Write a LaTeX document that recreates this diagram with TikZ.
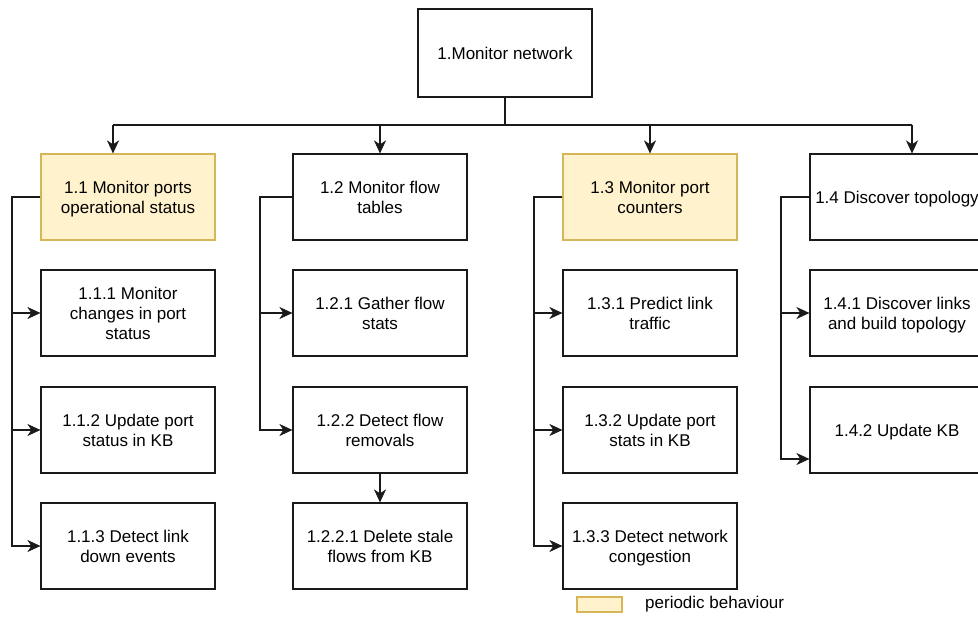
\documentclass[tikz,border=0pt]{standalone}
\usepackage{fontspec}
\setmainfont{Liberation Sans}
\usetikzlibrary{arrows.meta}

\definecolor{periodicfill}{HTML}{FFF2CC}
\definecolor{periodicline}{HTML}{D6B656}
\definecolor{edge}{HTML}{1A1A1A}

\tikzset{
  task/.style={draw=edge, line width=1.2pt, rectangle, minimum width=174pt,
    minimum height=86pt, inner sep=0pt, align=center, text depth=0pt,
    font=\fontsize{17}{20}\selectfont},
  periodic/.style={task, draw=periodicline, fill=periodicfill},
  link/.style={draw=edge, line width=1.3pt},
  arr/.style={link, -{Stealth[length=13pt,width=12pt,inset=4pt,line width=0.6pt]}},
  keybox/.style={draw=periodicline, fill=periodicfill, line width=1.2pt,
    minimum width=45pt, minimum height=15pt, inner sep=0pt},
}

\begin{document}
\begin{tikzpicture}[x=1pt,y=-1pt]
  \clip (0,0) rectangle (978,617);

  % root
  \node[task, minimum height=88pt] (root) at (505,53) {1.Monitor network};

  % column 1
  \node[periodic] (n11)  at (128,197) {1.1 Monitor ports\\operational status};
  \node[task]     (n111) at (128,313) {1.1.1 Monitor\\changes in port\\status};
  \node[task]     (n112) at (128,430) {1.1.2 Update port\\status in KB};
  \node[task]     (n113) at (128,546) {1.1.3 Detect link\\down events};

  % column 2
  \node[task] (n12)   at (380,197) {1.2 Monitor flow\\tables};
  \node[task] (n121)  at (380,313) {1.2.1 Gather flow\\stats};
  \node[task] (n122)  at (380,430) {1.2.2 Detect flow\\removals};
  \node[task] (n1221) at (380,546) {1.2.2.1 Delete stale\\flows from KB};

  % column 3
  \node[periodic] (n13)  at (650,197) {1.3 Monitor port\\counters};
  \node[task]     (n131) at (650,313) {1.3.1 Predict link\\traffic};
  \node[task]     (n132) at (650,430) {1.3.2 Update port\\stats in KB};
  \node[task]     (n133) at (650,546) {1.3.3 Detect network\\congestion};

  % column 4
  \node[task] (n14)  at (897,197) {1.4 Discover topology};
  \node[task] (n141) at (897,313) {1.4.1 Discover links\\and build topology};
  \node[task] (n142) at (897,430) {1.4.2 Update KB};

  % legend
  \node[keybox] (key) at (599.5,604.5) {};
  \node[anchor=west, inner sep=0pt, font=\fontsize{17}{20}\selectfont]
    (keytext) at (645,604.5) {periodic behaviour};

  % top-level bus
  \coordinate (busM) at (505,125);
  \coordinate (busL) at (113,125);
  \coordinate (busR) at (912,125);
  \draw[link] (root.south) -- (busM);
  \draw[link] (busL) -- (busR);
  \draw[arr] (busL) -- (busL |- n11.north);
  \draw[arr] (n12.north |- busM) -- (n12.north);
  \draw[arr] (n13.north |- busM) -- (n13.north);
  \draw[arr] (busR) -- (busR |- n14.north);

  % vertical spines
  \coordinate (sp1) at (12,0);
  \coordinate (sp2) at (260,0);
  \coordinate (sp3) at (534,0);
  \coordinate (sp4) at (781,0);

  \draw[arr] (n11.west) -| (sp1 |- n111.west) -- (n111.west);
  \draw[arr] (n11.west) -| (sp1 |- n112.west) -- (n112.west);
  \draw[arr] (n11.west) -| (sp1 |- n113.west) -- (n113.west);

  \draw[arr] (n12.west) -| (sp2 |- n121.west) -- (n121.west);
  \draw[arr] (n12.west) -| (sp2 |- n122.west) -- (n122.west);
  \draw[arr] (n122.south) -- (n1221.north);

  \draw[arr] (n13.west) -| (sp3 |- n131.west) -- (n131.west);
  \draw[arr] (n13.west) -| (sp3 |- n132.west) -- (n132.west);
  \draw[arr] (n13.west) -| (sp3 |- n133.west) -- (n133.west);

  \coordinate (in142) at ([yshift=-29pt]n142.west);
  \draw[arr] (n14.west) -| (sp4 |- n141.west) -- (n141.west);
  \draw[arr] (n14.west) -| (sp4 |- in142) -- (in142);
\end{tikzpicture}
\end{document}
